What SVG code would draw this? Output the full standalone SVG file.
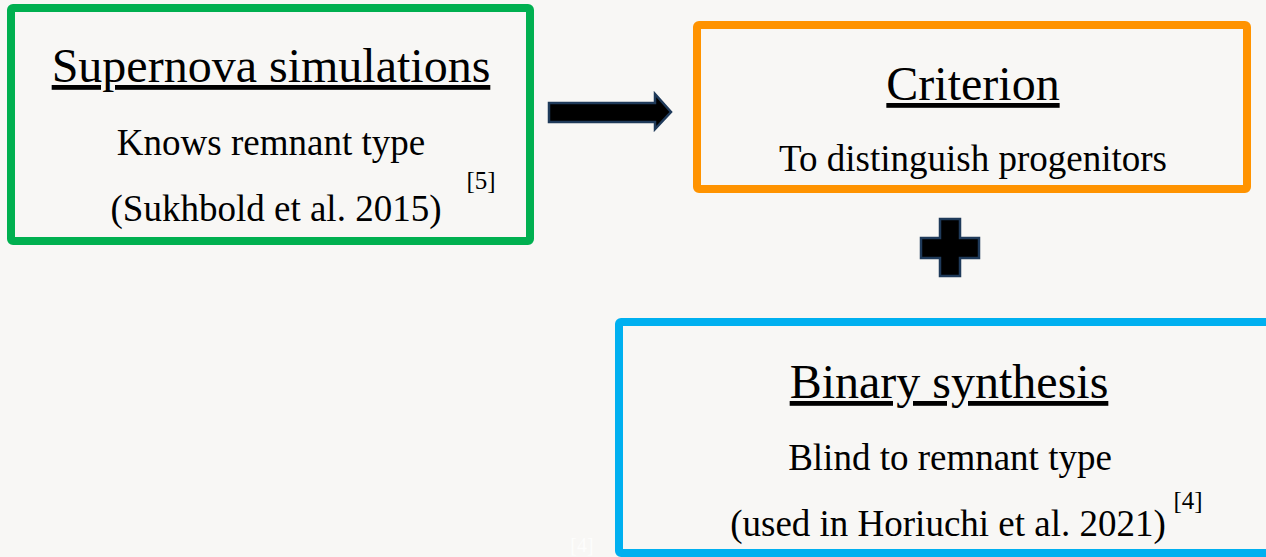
<svg xmlns="http://www.w3.org/2000/svg" width="1266" height="557" viewBox="0 0 1266 557">
  <style>
    .t { font-family: "Liberation Serif", "Times New Roman", serif; fill: #000; text-anchor: middle; }
    .h { font-size: 48px; text-decoration: underline; }
    .b { font-size: 37px; }
    .s { font-size: 25px; }
    .box { fill: none; stroke-width: 8; }
    .sym { fill: #000; stroke: #1f3a5a; stroke-width: 2.5; }
  </style>
  <rect width="1266" height="557" fill="#f8f7f5"/>

  <g id="supernova">
    <rect class="box" x="11" y="8" width="519" height="233" rx="2" stroke="#00b050"/>
    <text class="t h" x="271" y="82">Supernova simulations</text>
    <text class="t b" x="271" y="155">Knows remnant type</text>
    <text class="t b" x="276" y="221">(Sukhbold et al. 2015)</text>
    <text class="t s" x="481" y="189">[5]</text>
  </g>

  <g id="criterion">
    <rect class="box" x="697" y="25" width="550" height="164" rx="2" stroke="#ff9300"/>
    <text class="t h" x="973" y="100">Criterion</text>
    <text class="t b" x="973" y="171">To distinguish progenitors</text>
  </g>

  <g id="binary">
    <rect class="box" x="619" y="322" width="700" height="231" rx="2" stroke="#00b0f0"/>
    <text class="t h" x="949" y="398">Binary synthesis</text>
    <text class="t b" x="950" y="470">Blind to remnant type</text>
    <text class="t b" x="948" y="536">(used in Horiuchi et al. 2021)</text>
    <text class="t s" x="1188" y="509">[4]</text>
    <text class="t" x="582" y="552" style="font-size:20px;fill:#fdfdfc">[4]</text>
  </g>

  <g id="connectors">
    <path class="sym" d="M549 103 H655 V94 L671 112 L655 129 V122 H549 Z"/>
    <path class="sym" d="M940 219 H960 V238 H979 V258 H960 V276 H940 V258 H921 V238 H940 Z"/>
  </g>
</svg>
